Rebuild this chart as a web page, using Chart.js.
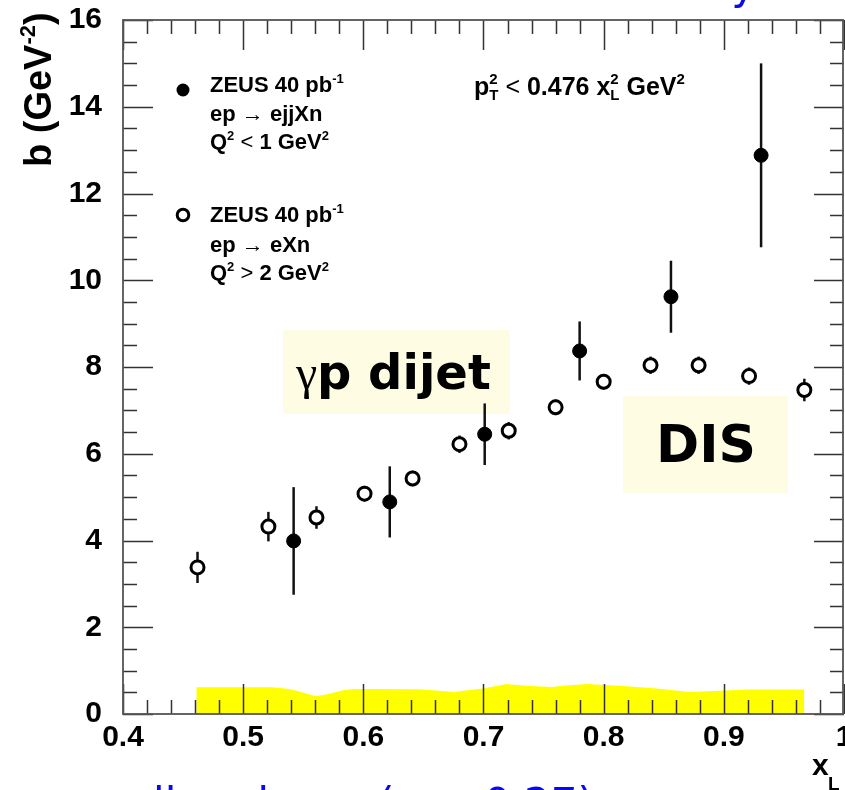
<!DOCTYPE html>
<html><head><meta charset="utf-8">
<script src="https://cdn.jsdelivr.net/npm/chart.js@4.4.1/dist/chart.umd.min.js"></script>
<style>html,body{margin:0;padding:0;background:#fff;overflow:hidden}#wrap{width:845px;height:790px}</style>
</head><body><div id="wrap"><canvas id="c" width="845" height="790"></canvas></div>
<script>
// ---- data ----
const xTickValues = [0.4, 0.5, 0.6, 0.7, 0.8, 0.9, 1.0];
const xTickLabels = ['0.4', '0.5', '0.6', '0.7', '0.8', '0.9', '1'];
const yTickValues = [0, 2, 4, 6, 8, 10, 12, 14, 16];
const yTickLabels = ['0', '2', '4', '6', '8', '10', '12', '14', '16'];

// ZEUS 40 pb-1, ep -> ejjXn, Q2 < 1 GeV2 (gamma p dijet), filled
const dijetX = [0.542, 0.622, 0.701, 0.780, 0.856, 0.931];
const dijetB = [3.99, 4.89, 6.45, 8.37, 9.62, 12.88];
const dijetErr = [1.24, 0.82, 0.71, 0.68, 0.83, 2.12];

// ZEUS 40 pb-1, ep -> eXn, Q2 > 2 GeV2 (DIS), open
const disX = [0.462, 0.521, 0.561, 0.601, 0.641, 0.680, 0.721, 0.760, 0.800, 0.839, 0.879, 0.921, 0.967];
const disB = [3.38, 4.32, 4.53, 5.08, 5.43, 6.22, 6.53, 7.07, 7.66, 8.04, 8.04, 7.79, 7.47];
const disErr = [0.36, 0.34, 0.26, 0.18, 0.18, 0.2, 0.2, 0.18, 0.18, 0.2, 0.2, 0.2, 0.26];

// systematic uncertainty band (yellow)
const bandX = [0.461, 0.524, 0.535, 0.542, 0.552, 0.560, 0.566, 0.575, 0.584, 0.593, 0.611, 0.647, 0.660, 0.676, 0.688, 0.701, 0.719, 0.735, 0.757, 0.766, 0.786, 0.813, 0.842, 0.872, 0.901, 0.921, 0.967];
const bandY = [0.615, 0.615, 0.59, 0.554, 0.48, 0.415, 0.43, 0.49, 0.554, 0.577, 0.577, 0.569, 0.54, 0.508, 0.554, 0.592, 0.69, 0.654, 0.623, 0.654, 0.69, 0.654, 0.592, 0.508, 0.54, 0.562, 0.562];

const SANS = '"Liberation Sans", Arial, Helvetica, sans-serif';
const COMIC = '"DejaVu Sans", sans-serif';

function drawRuns(ctx, x, y, parts) {
  for (const p of parts) {
    if (p.stack) {
      let w = 0;
      for (const q of p.stack) {
        ctx.font = `${q.w || 'bold'} ${q.s}px ${q.f || SANS}`;
        ctx.fillText(q.t, x, y + (q.dy || 0));
        w = Math.max(w, ctx.measureText(q.t).width);
      }
      x += w;
    } else {
      ctx.font = `${p.w || 'bold'} ${p.s}px ${p.f || SANS}`;
      ctx.fillText(p.t, x, y + (p.dy || 0));
      x += ctx.measureText(p.t).width + (p.dx || 0);
    }
  }
  return x;
}

const decor = {
  id: 'decor',
  beforeDatasetsDraw(chart) {
    const ctx = chart.ctx;
    const xs = chart.scales.x, ys = chart.scales.y;
    ctx.save();
    // annotation boxes
    ctx.fillStyle = '#fefde3';
    ctx.fillRect(283, 330, 227, 84);
    ctx.fillRect(623, 396, 165, 97);
    ctx.fillStyle = '#000';
    ctx.textBaseline = 'alphabetic';
    ctx.textAlign = 'left';
    ctx.font = '48px "Liberation Serif", "DejaVu Serif", serif';
    ctx.fillText('γ', 296, 389);
    ctx.font = 'bold 48px ' + COMIC;
    ctx.fillText('p dijet', 317, 389);
    ctx.font = 'bold 52px ' + COMIC;
    ctx.fillText('DIS', 656, 462);
    // error bars
    ctx.strokeStyle = '#111';
    ctx.lineWidth = 2.5;
    const bars = (X, B, E) => {
      for (let i = 0; i < X.length; i++) {
        const px = xs.getPixelForValue(X[i]);
        ctx.beginPath();
        ctx.moveTo(px, ys.getPixelForValue(B[i] - E[i]));
        ctx.lineTo(px, ys.getPixelForValue(B[i] + E[i]));
        ctx.stroke();
      }
    };
    bars(dijetX, dijetB, dijetErr);
    bars(disX, disB, disErr);
    ctx.restore();
  },
  afterDatasetsDraw(chart) {
    const ctx = chart.ctx;
    const a = chart.chartArea;
    const xs = chart.scales.x, ys = chart.scales.y;
    ctx.save();
    ctx.strokeStyle = '#333';
    ctx.lineWidth = 1.5;
    // x ticks (minor every 0.02, major every 0.1)
    for (let k = 0; k <= 30; k++) {
      const v = 0.4 + k * 0.02;
      const px = Math.round(xs.getPixelForValue(v)) + 0.5;
      const len = (k % 5 === 0) ? 30 : 14;
      ctx.beginPath();
      ctx.moveTo(px, a.bottom); ctx.lineTo(px, a.bottom - len);
      ctx.moveTo(px, a.top); ctx.lineTo(px, a.top + len);
      ctx.stroke();
    }
    // y ticks (minor every 0.5, major every 2)
    for (let k = 0; k <= 32; k++) {
      const v = k * 0.5;
      const py = Math.round(ys.getPixelForValue(v)) + 0.5;
      const len = (k % 4 === 0) ? 30 : 14;
      ctx.beginPath();
      ctx.moveTo(a.left, py); ctx.lineTo(a.left + len, py);
      ctx.moveTo(a.right, py); ctx.lineTo(a.right - len, py);
      ctx.stroke();
    }
    // frame
    ctx.strokeStyle = '#555';
    ctx.lineWidth = 1.8;
    ctx.strokeRect(a.left, a.top, a.right - a.left - 1, a.bottom - a.top);
    ctx.restore();
  },
  afterDraw(chart) {
    const ctx = chart.ctx;
    ctx.save();
    ctx.fillStyle = '#000';
    ctx.textAlign = 'left';
    ctx.textBaseline = 'alphabetic';
    // legend markers
    ctx.beginPath(); ctx.arc(183, 90, 6.5, 0, Math.PI * 2); ctx.fill();
    ctx.beginPath(); ctx.arc(183, 215, 5.8, 0, Math.PI * 2);
    ctx.lineWidth = 3; ctx.strokeStyle = '#000'; ctx.stroke();
    const S = 22, s = 13;
    // block 1
    drawRuns(ctx, 210, 92, [{t: 'ZEUS 40 pb', s: S}, {t: '-1', s: s, dy: -9}]);
    drawRuns(ctx, 210, 121, [{t: 'ep ', s: S}, {t: '→', s: S, w: 'normal'}, {t: ' ejjXn', s: S}]);
    drawRuns(ctx, 210, 149, [{t: 'Q', s: S}, {t: '2', s: s, dy: -9}, {t: ' < ', s: S, w: 'normal'}, {t: '1 GeV', s: S}, {t: '2', s: s, dy: -9}]);
    // block 2
    drawRuns(ctx, 210, 222, [{t: 'ZEUS 40 pb', s: S}, {t: '-1', s: s, dy: -9}]);
    drawRuns(ctx, 210, 252, [{t: 'ep ', s: S}, {t: '→', s: S, w: 'normal'}, {t: ' eXn', s: S}]);
    drawRuns(ctx, 210, 280, [{t: 'Q', s: S}, {t: '2', s: s, dy: -9}, {t: ' > ', s: S, w: 'normal'}, {t: '2 GeV', s: S}, {t: '2', s: s, dy: -9}]);
    // pT cut
    drawRuns(ctx, 474, 95, [
      {t: 'p', s: 25},
      {stack: [{t: '2', s: 15, dy: -11}, {t: 'T', s: 15, dy: 5}]},
      {t: ' < ', s: 25, w: 'normal'},
      {t: '0.476 x', s: 25},
      {stack: [{t: '2', s: 15, dy: -11}, {t: 'L', s: 15, dy: 5}]},
      {t: ' GeV', s: 25},
      {t: '2', s: 15, dy: -11}
    ]);
    // y-axis title
    ctx.save();
    ctx.translate(51, 167);
    ctx.rotate(-Math.PI / 2);
    drawRuns(ctx, 0, 0, [{t: 'b (GeV', s: 38}, {t: '-2', s: 22, dy: -16}, {t: ')', s: 38}]);
    ctx.restore();
    // x-axis title
    drawRuns(ctx, 812, 775, [{t: 'x', s: 30}]);
    drawRuns(ctx, 828, 790, [{t: 'L', s: 19}]);
    // cut-off slide text (blue)
    ctx.fillStyle = '#0a0ae8';
    ctx.font = '42px ' + COMIC;
    ctx.textAlign = 'right';
    ctx.fillText('universality', 756, -1);
    ctx.textAlign = 'left';
    ctx.fillText('linear', 153, 818);
    ctx.fillText('and', 190, 818);
    ctx.fillText('(α ≈ 0.27)', 378, 818);
    ctx.restore();
  }
};

const tickFontX = {family: SANS, weight: 'bold', size: 30};
const tickFontY = {family: SANS, weight: 'bold', size: 30};

new Chart(document.getElementById('c').getContext('2d'), {
  type: 'scatter',
  data: {
    datasets: [
      {
        label: 'ZEUS 40 pb-1 ep→ejjXn',
        data: dijetX.map((x, i) => ({x: x, y: dijetB[i]})),
        pointRadius: 7, pointHoverRadius: 7,
        pointBackgroundColor: '#000', pointBorderColor: '#000', pointBorderWidth: 1,
        showLine: false
      },
      {
        label: 'ZEUS 40 pb-1 ep→eXn',
        data: disX.map((x, i) => ({x: x, y: disB[i]})),
        pointRadius: 6.5, pointHoverRadius: 6.5,
        pointBackgroundColor: '#fff', pointBorderColor: '#000', pointBorderWidth: 3,
        showLine: false
      },
      {
        label: 'syst',
        type: 'line',
        data: bandX.map((x, i) => ({x: x, y: bandY[i]})),
        fill: 'origin', backgroundColor: '#ffff00', borderColor: '#ffff00',
        borderWidth: 0, pointRadius: 0, tension: 0
      }
    ]
  },
  options: {
    responsive: false, animation: false, devicePixelRatio: 1,
    layout: {padding: {left: 0, right: 1, top: 20, bottom: 0}, autoPadding: false},
    plugins: {legend: {display: false}, tooltip: {enabled: false}, title: {display: false}},
    events: [],
    scales: {
      x: {
        type: 'linear', min: 0.4, max: 1.0,
        afterBuildTicks: sc => { sc.ticks = xTickValues.map(v => ({value: v})); },
        afterFit: sc => { sc.height = 76; sc.paddingLeft = 0; sc.paddingRight = 0; sc.paddingTop = 0; sc.paddingBottom = 0; },
        grid: {display: false, drawTicks: false},
        border: {display: false},
        ticks: {
          autoSkip: false, maxRotation: 0, minRotation: 0, padding: 6,
          color: '#000', font: tickFontX,
          callback: (v) => { const i = xTickValues.findIndex(t => Math.abs(t - v) < 1e-6); return i >= 0 ? xTickLabels[i] : ''; }
        }
      },
      y: {
        type: 'linear', min: 0, max: 16,
        afterBuildTicks: sc => { sc.ticks = yTickValues.map(v => ({value: v})); },
        afterFit: sc => { sc.width = 123; sc.paddingLeft = 0; sc.paddingRight = 0; sc.paddingTop = 0; sc.paddingBottom = 0; },
        grid: {display: false, drawTicks: false},
        border: {display: false},
        ticks: {
          autoSkip: false, padding: 21, color: '#000', font: tickFontY,
          callback: (v) => { const i = yTickValues.indexOf(v); return i >= 0 ? yTickLabels[i] : ''; }
        }
      }
    }
  },
  plugins: [decor]
});
</script>
</body></html>
